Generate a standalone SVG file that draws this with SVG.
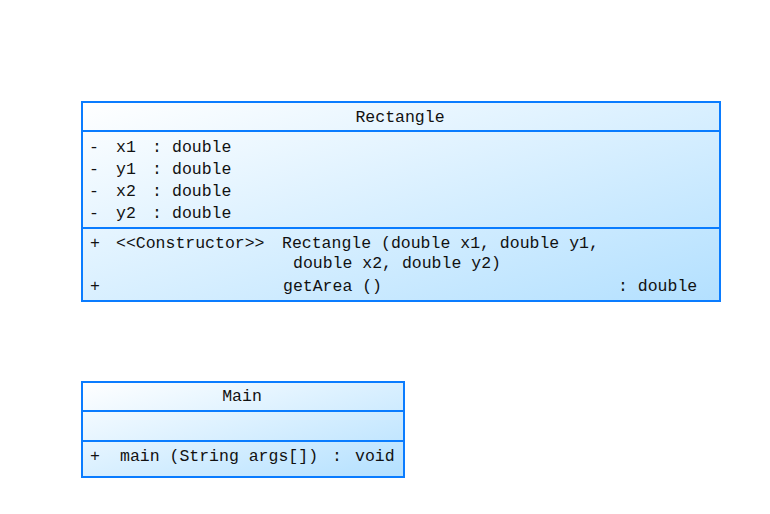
<svg xmlns="http://www.w3.org/2000/svg" width="770" height="514" viewBox="0 0 770 514">
  <defs>
    <linearGradient id="g" x1="0" y1="0" x2="1" y2="1">
      <stop offset="0" stop-color="#ffffff"/>
      <stop offset="1" stop-color="#b3e0ff"/>
    </linearGradient>
    <style>
      .box { fill: url(#g); stroke: #0a7cff; stroke-width: 2; }
      .div { stroke: #0a7cff; stroke-width: 2; }
      text { font-family: "Liberation Mono", "DejaVu Sans Mono", monospace; font-size: 16.5px; fill: #111; }
      .c { text-anchor: middle; }
    </style>
  </defs>
  <rect width="770" height="514" fill="#ffffff"/>
  <g id="Rectangle">
    <rect class="box" x="82" y="102" width="638" height="199"/>
    <line class="div" x1="82" y1="131" x2="720" y2="131"/>
    <line class="div" x1="82" y1="228" x2="720" y2="228"/>
    <text class="c" x="400" y="122">Rectangle</text>
    <text x="89" y="152">-</text><text x="116" y="152">x1</text><text x="152" y="152">:</text><text x="172" y="152">double</text>
    <text x="89" y="174">-</text><text x="116" y="174">y1</text><text x="152" y="174">:</text><text x="172" y="174">double</text>
    <text x="89" y="196">-</text><text x="116" y="196">x2</text><text x="152" y="196">:</text><text x="172" y="196">double</text>
    <text x="89" y="218">-</text><text x="116" y="218">y2</text><text x="152" y="218">:</text><text x="172" y="218">double</text>
    <text x="90" y="248">+</text>
    <text x="116" y="248">&lt;&lt;Constructor&gt;&gt;</text>
    <text x="282" y="248">Rectangle (double x1, double y1,</text>
    <text x="293" y="268">double x2, double y2)</text>
    <text x="90" y="291">+</text>
    <text x="283" y="291">getArea ()</text>
    <text x="618" y="291">: double</text>
  </g>
  <g id="Main">
    <rect class="box" x="82" y="382" width="322" height="95"/>
    <line class="div" x1="82" y1="411" x2="404" y2="411"/>
    <line class="div" x1="82" y1="441" x2="404" y2="441"/>
    <text class="c" x="242" y="401">Main</text>
    <text x="90" y="461">+</text>
    <text x="120" y="461">main (String args[])</text>
    <text x="332" y="461">:</text>
    <text x="355" y="461">void</text>
  </g>
  <g id="connectors"/>
</svg>
